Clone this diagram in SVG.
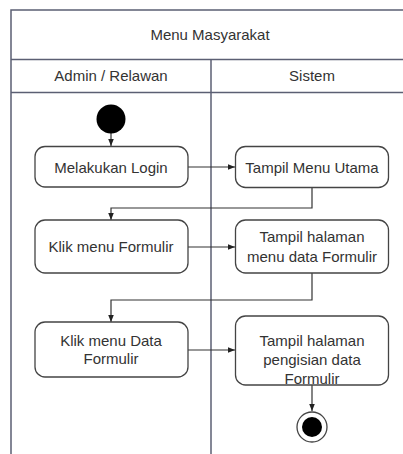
<svg xmlns="http://www.w3.org/2000/svg" width="403" height="454" viewBox="0 0 403 454">
<style>
.lane{fill:none;stroke:#5b5f73;stroke-width:1.5}
.box{fill:#fff;stroke:#444;stroke-width:1.3}
.t{font-family:"Liberation Sans",Arial,sans-serif;font-size:15px;fill:#333;text-anchor:middle}
.c{fill:none;stroke:#333;stroke-width:1.2}
</style>
<defs>
<marker id="ah" viewBox="0 0 10 10" refX="10" refY="5" markerWidth="7" markerHeight="7" orient="auto" markerUnits="userSpaceOnUse">
<path d="M0,1 L10,5 L0,9 Z" fill="#222"/>
</marker>
</defs>
<rect width="403" height="454" fill="#fff"/>
<g id="swimlanes">
<rect class="lane" x="11" y="10" width="420" height="460"/>
<line class="lane" x1="11" y1="59.5" x2="403" y2="59.5"/>
<line class="lane" x1="11" y1="92.5" x2="403" y2="92.5"/>
<line class="lane" x1="211" y1="59.5" x2="211" y2="454"/>
<text class="t" x="210" y="40">Menu Masyarakat</text>
<text class="t" x="111" y="81">Admin / Relawan</text>
<text class="t" x="312" y="81">Sistem</text>
</g>
<g id="connectors">
<line class="c" x1="111" y1="133" x2="111" y2="146" marker-end="url(#ah)"/>
<line class="c" x1="188" y1="167" x2="235" y2="167" marker-end="url(#ah)"/>
<polyline class="c" points="312,187 312,208 111,208 111,220" marker-end="url(#ah)"/>
<line class="c" x1="188" y1="247" x2="235" y2="247" marker-end="url(#ah)"/>
<polyline class="c" points="312,273 312,300 111,300 111,322" marker-end="url(#ah)"/>
<line class="c" x1="188" y1="350" x2="235" y2="350" marker-end="url(#ah)"/>
<line class="c" x1="312" y1="385" x2="312" y2="411" marker-end="url(#ah)"/>
</g>
<g id="start"><circle cx="111" cy="119" r="14.5" fill="#000"/></g>
<g id="login"><rect class="box" x="35" y="146.5" width="153" height="40.5" rx="10"/><text class="t" x="111" y="173">Melakukan Login</text></g>
<g id="menuUtama"><rect class="box" x="235.5" y="146.5" width="153" height="41" rx="10"/><text class="t" x="312" y="173">Tampil Menu Utama</text></g>
<g id="klikFormulir"><rect class="box" x="35" y="220" width="153" height="53" rx="10"/><text class="t" x="111" y="252">Klik menu Formulir</text></g>
<g id="menuData"><rect class="box" x="235.5" y="220" width="153" height="53" rx="10"/><text class="t" x="312" y="242">Tampil halaman</text><text class="t" x="312" y="262">menu data Formulir</text></g>
<g id="klikData"><rect class="box" x="35" y="322" width="153" height="55" rx="10"/><text class="t" x="111" y="346">Klik menu Data</text><text class="t" x="111" y="364">Formulir</text></g>
<g id="pengisian"><rect class="box" x="235.5" y="316" width="153" height="69" rx="10"/><text class="t" x="312" y="346">Tampil halaman</text><text class="t" x="312" y="365">pengisian data</text><text class="t" x="312" y="384">Formulir</text></g>
<g id="end"><circle cx="312" cy="427" r="15" fill="#fff" stroke="#444" stroke-width="1.3"/><circle cx="312" cy="427" r="10" fill="#000"/></g>
</svg>
